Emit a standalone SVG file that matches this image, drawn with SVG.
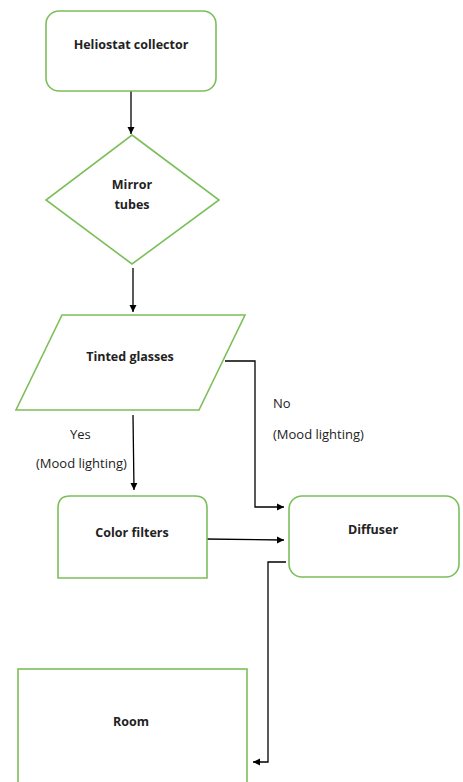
<svg xmlns="http://www.w3.org/2000/svg" width="463" height="782" viewBox="0 0 463 782">
<defs>
<marker id="ah" markerWidth="8" markerHeight="8" refX="7" refY="4" orient="auto" markerUnits="userSpaceOnUse">
<path d="M0,0.5 L7,4 L0,7.5 Z" fill="#000"/>
</marker>
<style>
.n{fill:#fff;stroke:#7cbf5a;stroke-width:1.6}
.t{font-family:"Open Sans","Liberation Sans",sans-serif;font-size:12.5px;font-weight:bold;fill:#222;text-anchor:middle}
.l{font-family:"Open Sans","Liberation Sans",sans-serif;font-size:13px;fill:#222}
.c{fill:none;stroke:#000;stroke-width:1.3}
</style>
</defs>
<rect width="463" height="782" fill="#fff"/>
<g id="connectors">
<path class="c" d="M131,91 V134" marker-end="url(#ah)"/>
<path class="c" d="M133,268 V312" marker-end="url(#ah)"/>
<path class="c" d="M225,361 H255 V507 H284" marker-end="url(#ah)"/>
<path class="c" d="M133,415 L134,490" marker-end="url(#ah)"/>
<path class="c" d="M205,539 L284,540" marker-end="url(#ah)"/>
<path class="c" d="M286,562 H268 V762 H253" marker-end="url(#ah)"/>
<text class="l" x="273" y="408">No</text>
<text class="l" x="273" y="439">(Mood lighting)</text>
<text class="l" x="70" y="439">Yes</text>
<text class="l" x="36" y="468">(Mood lighting)</text>
</g>
<g id="heliostat">
<rect class="n" x="46" y="11" width="170" height="80" rx="13"/>
<text class="t" x="131" y="49">Heliostat collector</text>
</g>
<g id="mirror">
<polygon class="n" points="132,135 219,200 132,264 46,200"/>
<text class="t" x="132" y="189">Mirror</text>
<text class="t" x="132" y="209">tubes</text>
</g>
<g id="tinted">
<polygon class="n" points="62,315 245,315 199,410 16,410"/>
<text class="t" x="130" y="361">Tinted glasses</text>
</g>
<g id="colorfilters">
<path class="n" d="M70,496 H195 Q207,496 207,508 V578 H58 V508 Q58,496 70,496 Z"/>
<text class="t" x="132" y="537">Color filters</text>
</g>
<g id="diffuser">
<rect class="n" x="289" y="496" width="170" height="81" rx="13"/>
<text class="t" x="373" y="534">Diffuser</text>
</g>
<g id="room">
<rect class="n" x="18" y="669" width="229" height="130"/>
<text class="t" x="131" y="726">Room</text>
</g>
</svg>
